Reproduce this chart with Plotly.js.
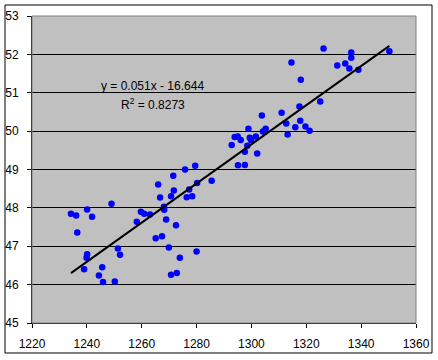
<!DOCTYPE html>
<html>
<head>
<meta charset="utf-8">
<script src="https://cdn.plot.ly/plotly-3.0.1.min.js"></script>
<style>html,body{margin:0;padding:0;background:#fff;}#chart{width:438px;height:360px;}</style>
</head>
<body>
<div id="chart"></div>
<script>
var xValues = [1234.2,1236.1,1240.1,1236.5,1241.9,1249.0,1239.0,1240.1,1239.9,1244.4,1245.6,1245.9,1250.2,1251.3,1252.1,
  1258.2,1259.7,1260.9,1263.0,1265.1,1266.0,1266.7,1267.4,1268.1,1268.2,1268.9,1269.9,1270.7,1271.5,1271.7,1270.7,1272.5,
  1272.8,1273.9,1275.8,1277.3,1276.4,1278.4,1279.5,1280.2,1280.0,1285.5,1292.8,1293.9,1295.0,1296.1,1295.1,1297.6,1297.6,
  1298.5,1298.9,1299.4,1299.9,1301.6,1302.1,1303.8,1304.2,1305.2,1311.0,1312.7,1313.2,1314.6,1316.0,1317.5,1317.8,1318.0,
  1319.7,1321.2,1325.1,1326.3,1331.3,1334.2,1335.7,1336.4,1336.4,1339.0,1350.3];
var yValues = [47.85,47.80,47.96,47.36,47.77,48.11,46.40,46.79,46.70,46.24,46.45,46.07,46.08,46.94,46.78,
  47.64,47.90,47.85,47.83,47.21,48.61,48.27,47.26,48.03,47.95,47.70,46.97,48.30,48.84,48.45,46.26,47.55,
  46.30,46.70,49.00,48.48,48.28,48.30,49.10,48.65,46.86,48.71,49.64,49.85,49.86,49.77,49.11,49.46,49.12,
  49.62,50.06,49.83,49.76,49.86,49.42,50.41,49.99,50.06,50.48,50.20,49.91,51.79,50.10,50.64,50.27,51.34,
  50.12,50.01,50.77,52.15,51.71,51.76,51.63,52.05,51.91,51.60,52.08];
var trendSlope = 0.051;
var trendIntercept = -16.644;
var trendX = [1234.2, 1350.3];
var trendY = trendX.map(function(x){ return trendSlope * x + trendIntercept; });
var xTicks = [1220,1240,1260,1280,1300,1320,1340,1360];
var yTicks = [45,46,47,48,49,50,51,52,53];
var equationText = 'y = 0.051x - 16.644';
var r2Text = 'R<sup>2</sup> = 0.8273';

var font = {family: '"Liberation Sans", Arial, sans-serif', size: 12, color: '#000'};

var data = [
  {x: xValues, y: yValues, type: 'scatter', mode: 'markers',
   marker: {color: '#0000FF', size: 6.5, symbol: 'circle', line: {width: 0}}, hoverinfo: 'none'},
  {x: trendX, y: trendY, type: 'scatter', mode: 'lines',
   line: {color: '#000', width: 2}, hoverinfo: 'none'}
];

var layout = {
  width: 438, height: 360,
  margin: {l: 32, r: 22, t: 16, b: 37, pad: 0},
  paper_bgcolor: '#fff', plot_bgcolor: '#C0C0C0',
  showlegend: false, font: font,
  xaxis: {range: [1220, 1360], tickvals: xTicks, ticktext: xTicks.map(String),
    showgrid: false, zeroline: false, showline: true, linecolor: '#000', linewidth: 1,
    ticks: 'outside', ticklen: 4, tickcolor: '#000', tickfont: font, ticklabelstandoff: 6},
  yaxis: {range: [45, 53], tickvals: yTicks, ticktext: yTicks.map(String),
    showgrid: true, gridcolor: '#000', gridwidth: 1, zeroline: false,
    showline: true, linecolor: '#000', linewidth: 1,
    ticks: 'outside', ticklen: 4, tickcolor: '#000', tickfont: font, ticklabelstandoff: 6},
  shapes: [
    {type: 'rect', xref: 'paper', yref: 'paper', x0: 0, x1: 1, y0: 0, y1: 1,
     line: {color: '#808080', width: 1}, fillcolor: 'rgba(0,0,0,0)', layer: 'above'},
    {type: 'rect', xref: 'paper', yref: 'paper', x0: -27/384, x1: 400/384, y0: -30/307, y1: 318/307,
     line: {color: '#000', width: 1}, fillcolor: 'rgba(0,0,0,0)'}
  ],
  annotations: [
    {xref: 'x', yref: 'y', x: 1263.9, y: 51.18, showarrow: false, text: equationText, font: font},
    {xref: 'x', yref: 'y', x: 1264.1, y: 50.71, showarrow: false, text: r2Text, font: font}
  ]
};

Plotly.newPlot('chart', data, layout, {staticPlot: true, displayModeBar: false});
</script>
</body>
</html>
